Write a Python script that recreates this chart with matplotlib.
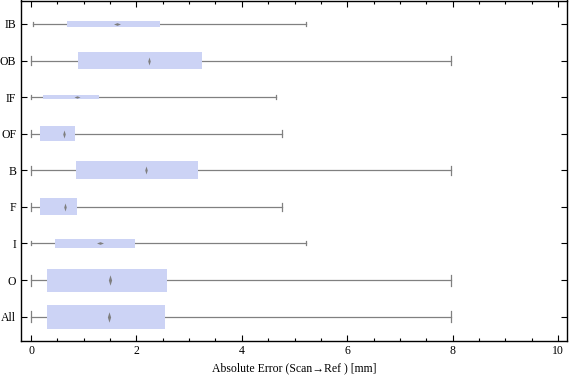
import matplotlib
matplotlib.use("Agg")
import matplotlib.pyplot as plt
from matplotlib.ticker import MultipleLocator

# groups listed bottom to top
groups = ["All", "O", "I", "F", "B", "OF", "IF", "OB", "IB"]
whisker_lo = [0.0, 0.0, 0.0, 0.0, 0.0, 0.0, 0.0, 0.0, 0.03]
q1 = [0.30, 0.30, 0.455, 0.17, 0.855, 0.17, 0.235, 0.89, 0.69]
median = [1.47, 1.49, 1.31, 0.645, 2.18, 0.63, 0.87, 2.24, 1.63]
q3 = [2.54, 2.58, 1.97, 0.875, 3.17, 0.835, 1.29, 3.245, 2.45]
whisker_hi = [7.96, 7.96, 5.22, 4.76, 7.96, 4.76, 4.64, 7.96, 5.22]

# box thickness (in y units), grows with group size
box_h = [0.66, 0.63, 0.22, 0.46, 0.49, 0.40, 0.11, 0.46, 0.16]

box_color = "#ccd3f5"
line_color = "#808080"
font = ["Liberation Serif", "DejaVu Serif"]
plt.rcParams["font.family"] = font

fig = plt.figure(figsize=(5.76, 3.81), dpi=100)
ax = fig.add_axes([20.5 / 576, 40 / 381, 546.5 / 576, 340.5 / 381])

# diamond shapes for the median: upright on thick boxes, flat on thin ones
upright = [(-1, 0), (0, 3.2), (1, 0), (0, -3.2), (-1, 0)]
flat = [(-2.6, 0), (0, 1), (2.6, 0), (0, -1), (-2.6, 0)]

for i, name in enumerate(groups):
    y = i + 1
    h = box_h[i]
    cap = max(h * 0.48, 0.11)
    ax.plot([whisker_lo[i], whisker_hi[i]], [y, y], color=line_color, lw=0.9, zorder=1)
    for xv in (whisker_lo[i], whisker_hi[i]):
        ax.plot([xv, xv], [y - cap / 2, y + cap / 2], color=line_color, lw=0.9, zorder=1)
    ax.barh(y, q3[i] - q1[i], left=q1[i], height=h, color=box_color, lw=0, zorder=2)
    if h > 0.3:
        ms = 7.5 if h > 0.55 else 5.8
        ax.plot(median[i], y, marker=upright, ms=ms, color="#7f7f7f", mew=0, zorder=3)
    else:
        ms = 5.0 if h > 0.13 else 4.3
        ax.plot(median[i], y, marker=flat, ms=ms, color="#7f7f7f", mew=0, zorder=3)

ax.set_xlim(-0.2, 10.17)
ax.set_ylim(0.335, 9.64)
ax.set_yticks(range(1, len(groups) + 1))
ax.set_yticklabels(groups)
ax.xaxis.set_major_locator(MultipleLocator(2))
ax.xaxis.set_minor_locator(MultipleLocator(0.5))
ax.tick_params(axis="both", which="both", direction="in", top=True, right=True,
               labelsize=8.5, color="black", width=0.8)
ax.tick_params(axis="both", which="major", length=4, pad=3)
ax.tick_params(axis="x", which="minor", length=2.5)
ax.set_xlabel("Absolute Error (Scan\u2192Ref ) [mm]", fontsize=8.5, labelpad=4)
for s in ax.spines.values():
    s.set_linewidth(1.0)

fig.savefig("out.png", dpi=100)
